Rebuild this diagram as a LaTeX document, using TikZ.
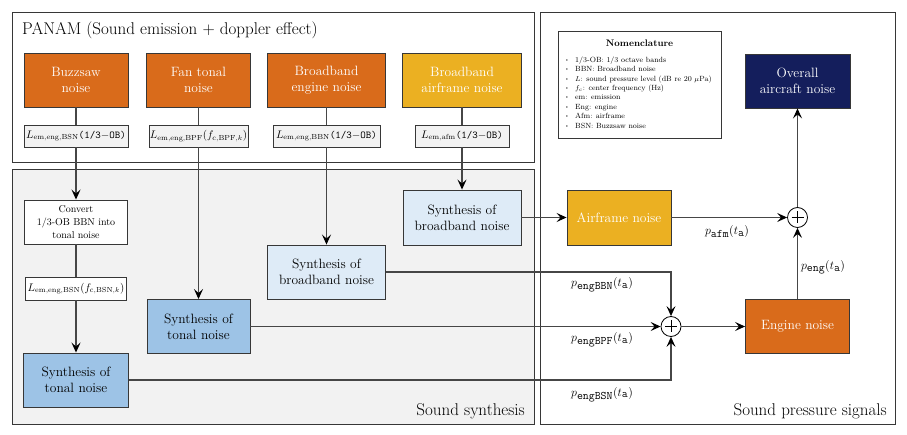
\documentclass[tikz,border=0pt]{standalone}
\usepackage{fontspec}
\usetikzlibrary{arrows.meta,calc}
\definecolor{orangeN}{RGB}{217,107,27}
\definecolor{yellowN}{RGB}{235,176,34}
\definecolor{blueT}{RGB}{157,195,230}
\definecolor{blueB}{RGB}{222,235,247}
\definecolor{navyN}{RGB}{20,30,92}
\definecolor{grayF}{RGB}{242,242,242}
\definecolor{lineC}{RGB}{70,70,70}
\definecolor{edgeC}{RGB}{55,55,55}
\newcommand{\mysub}[1]{\texttt{(1/3}{$-$}\texttt{OB)}}
\newcommand{\nb}{\makebox[10pt][l]{\raisebox{0.3ex}{\scalebox{0.6}{\textbullet}}}}
\begin{document}
\begin{tikzpicture}[x=1pt,y=-1pt,
  box/.style={draw=edgeC,line width=0.9pt,align=center,inner sep=0pt,font=\fontsize{13.5}{16}\selectfont},
  src/.style={box,fill=orangeN,text=white,minimum height=54pt},
  lab/.style={box,fill=grayF,minimum height=22pt,font=\fontsize{10.5}{12}\selectfont},
  tone/.style={box,fill=blueT,minimum height=54pt},
  bband/.style={box,fill=blueB,minimum height=54pt},
  group/.style={draw=edgeC,line width=1pt},
  grouptitle/.style={font=\fontsize{17}{20}\selectfont},
  conn/.style={draw=lineC,line width=1.1pt},
  arr/.style={conn,-{Stealth[length=10pt,width=9pt,inset=4pt,color=black]}},
  plus/.style={circle,draw=black,line width=0.8pt,fill=white,minimum size=20pt,inner sep=0pt,
    path picture={\draw[line width=0.8pt] ($(path picture bounding box.center)+(-6,0)$) -- ++(12,0);
                  \draw[line width=0.8pt] ($(path picture bounding box.center)+(0,-6)$) -- ++(0,12);}},
  plab/.style={font=\fontsize{11.5}{13}\selectfont,inner sep=1pt}
]
\useasboundingbox (0,0) rectangle (907,435);
% groups
\draw[group,fill=white] (12,13) rectangle (534,163);
\draw[group,fill=grayF] (12,170) rectangle (534,424);
\draw[group,fill=white] (540,13) rectangle (895,424);
\node[grouptitle,anchor=base west,inner sep=0pt] (tpanam) at (22,35) {PANAM (Sound emission + doppler effect)};
\node[grouptitle,anchor=base east,inner sep=0pt] (tsyn) at (525,415) {Sound synthesis};
\node[grouptitle,anchor=base east,inner sep=0pt] (tspr) at (887,415) {Sound pressure signals};

% sources
\node[src,minimum width=104pt] (buzz) at (76,80) {Buzzsaw\\noise};
\node[src,minimum width=104pt] (fan) at (198.5,80) {Fan tonal\\noise};
\node[src,minimum width=118pt] (bbe) at (326.5,80) {Broadband\\engine noise};
\node[src,fill=yellowN,minimum width=119pt] (baf) at (462,80) {Broadband\\airframe noise};

% level labels
\node[lab,minimum width=104pt] (lab1) at (76,136) {$L_{\mathrm{em,eng,BSN}}$\mysub{}};
\node[lab,minimum width=99pt] (lab2) at (198.5,136) {$L_{\mathrm{em,eng,BPF}}(f_{\mathrm{c,BPF},k})$};
\node[lab,minimum width=107pt] (lab3) at (326.5,136) {$L_{\mathrm{em,eng,BBN}}$\mysub{}};
\node[lab,minimum width=94pt] (lab4) at (462,136) {$L_{\mathrm{em,afm}}$\mysub{}};

% synthesis
\node[box,fill=white,minimum width=103pt,minimum height=44pt,font=\fontsize{10}{12.7}\selectfont] (conv) at (76,222) {Convert\\1/3-OB BBN into\\tonal noise};
\node[lab,fill=white,minimum width=101pt,minimum height=23pt] (lab5) at (76,288.5) {$L_{\mathrm{em,eng,BSN}}(f_{\mathrm{c,BSN},k})$};
\node[tone,minimum width=105pt] (synT1) at (76,380) {Synthesis of\\tonal noise};
\node[tone,minimum width=103pt] (synT2) at (198.5,326.5) {Synthesis of\\tonal noise};
\node[bband,minimum width=118pt] (synB1) at (326.5,272) {Synthesis of\\broadband noise};
\node[bband,minimum width=118pt,minimum height=55pt] (synB2) at (462,217.5) {Synthesis of\\broadband noise};

% pressure signals
\node[src,fill=yellowN,minimum width=104pt,minimum height=55pt] (afr) at (619,217.5) {Airframe noise};
\node[src,minimum width=104pt] (eng) at (797.5,326.5) {Engine noise};
\node[src,fill=navyN,minimum width=105pt] (overall) at (797.5,81) {Overall\\aircraft noise};
\node[plus] (plusT) at (797.5,217.5) {};
\node[plus] (plusB) at (671,326.5) {};

% nomenclature
\node[box,fill=white,minimum width=163pt,minimum height=107pt] (nom) at (639.5,84.5) {};
\node[font=\fontsize{9.5}{11}\selectfont\bfseries] (nomt) at (639.5,43) {Nomenclature};
\node[anchor=north west,align=left,inner sep=0pt,font=\fontsize{7.5}{9.4}\selectfont] (nomi) at (565,56.5) {%
\nb 1/3-OB: 1/3 octave bands\\
\nb BBN: Broadband noise\\
\nb $L$: sound pressure level (dB re 20 $\mu$Pa)\\
\nb $f_{\mathrm{c}}$: center frequency (Hz)\\
\nb em: emission\\
\nb Eng: engine\\
\nb Afm: airframe\\
\nb BSN: Buzzsaw noise};

% connectors, emission side
\draw[conn] (buzz.south) -- (lab1.north);
\draw[arr] (lab1.south) -- (conv.north);
\draw[conn] (conv.south) -- (lab5.north);
\draw[arr] (lab5.south) -- (synT1.north);
\draw[conn] (fan.south) -- (lab2.north);
\draw[arr] (lab2.south) -- (synT2.north);
\draw[conn] (bbe.south) -- (lab3.north);
\draw[arr] (lab3.south) -- (synB1.north);
\draw[conn] (baf.south) -- (lab4.north);
\draw[arr] (lab4.south) -- (synB2.north);

% connectors, pressure side
\draw[arr] (synB2.east) -- (afr.west);
\draw[arr] (afr.east) -- (plusT.west);
\draw[arr] (eng.north) -- (plusT.south);
\draw[arr] (plusT.north) -- (overall.south);
\draw[arr] (synB1.east) -| (plusB.north);
\draw[arr] (synT2.east) -- (plusB.west);
\draw[arr] (synT1.east) -| (plusB.south);
\draw[arr] (plusB.east) -- (eng.west);

% signal labels
\node[plab] (lafm) at (727,231.5) {$p_{\texttt{afm}}(t_{\texttt{a}})$};
\node[plab] (leng) at (823,267.5) {$p_{\texttt{eng}}(t_{\texttt{a}})$};
\node[plab] (lbbn) at (602,285) {$p_{\texttt{engBBN}}(t_{\texttt{a}})$};
\node[plab] (lbpf) at (602,340) {$p_{\texttt{engBPF}}(t_{\texttt{a}})$};
\node[plab] (lbsn) at (602,394.5) {$p_{\texttt{engBSN}}(t_{\texttt{a}})$};
\end{tikzpicture}
\end{document}
